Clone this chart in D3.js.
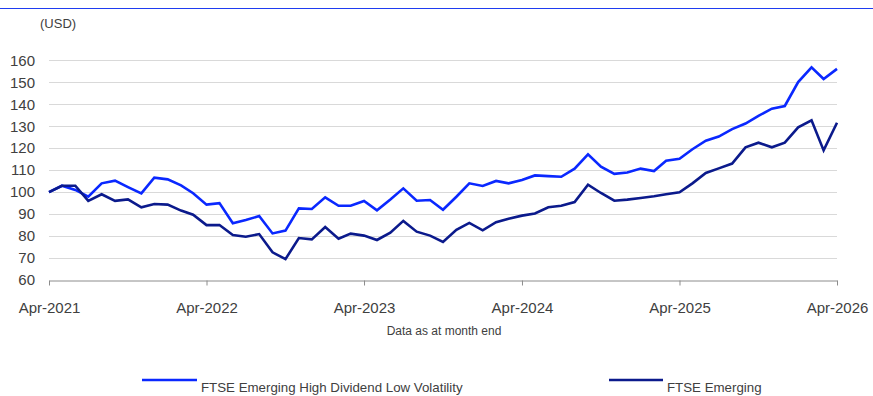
<!DOCTYPE html>
<html>
<head>
<meta charset="utf-8">
<script src="https://cdn.jsdelivr.net/npm/d3@7"></script>
<style>
  html, body { margin: 0; padding: 0; background: #fff; }
  svg { display: block; font-family: Arial, "Liberation Sans", sans-serif; }
</style>
</head>
<body>
<svg id="chart" width="873" height="396"></svg>
<script>
// Monthly index levels (USD), rebased to 100 at Apr-2021, 61 month-ends to Apr-2026
const startYear = 2021, startMonth = 3; // April
const hdlvValues = [
  100.0, 102.9, 101.0, 97.9, 104.0, 105.2, 102.3, 99.4, 106.6, 105.8, 103.1, 99.5,
  94.3, 95.0, 85.8, 87.3, 89.1, 81.2, 82.5, 92.6, 92.3, 97.6, 93.8, 93.8,
  96.0, 91.7, 96.6, 101.7, 96.1, 96.4, 92.0, 97.9, 104.0, 102.8, 105.1, 104.0,
  105.5, 107.6, 107.3, 107.0, 110.7, 117.2, 111.6, 108.3, 108.9, 110.7, 109.6, 114.3,
  115.2, 119.5, 123.4, 125.3, 128.7, 131.2, 134.7, 138.0, 139.2, 150.1, 156.8, 151.5,
  156.1
];
const emergingValues = [
  100.0, 102.9, 102.9, 96.0, 99.0, 96.0, 96.7, 93.1, 94.6, 94.3, 91.6, 89.7,
  85.0, 85.0, 80.5, 79.7, 80.9, 72.6, 69.5, 79.1, 78.5, 84.1, 78.8, 81.1,
  80.2, 78.2, 81.5, 86.9, 82.0, 80.2, 77.3, 82.8, 86.0, 82.6, 86.3, 87.9,
  89.3, 90.3, 93.1, 93.8, 95.5, 103.4, 99.6, 96.1, 96.6, 97.3, 98.1, 99.0,
  99.9, 104.0, 108.7, 110.8, 113.0, 120.4, 122.5, 120.4, 122.5, 129.5, 132.7, 119.0,
  131.6
];
const seriesNames = ["FTSE Emerging High Dividend Low Volatility", "FTSE Emerging"];
const seriesColors = ["#0a28ff", "#0b1a8c"];
const yTicks = [60, 70, 80, 90, 100, 110, 120, 130, 140, 150, 160];
const xTickLabels = ["Apr-2021", "Apr-2022", "Apr-2023", "Apr-2024", "Apr-2025", "Apr-2026"];

const dates = hdlvValues.map((_, i) => new Date(startYear, startMonth + i, 1));
const xTickDates = xTickLabels.map((_, i) => new Date(startYear + i, startMonth, 1));

const svg = d3.select("#chart");
const margin = { left: 49, right: 36 };
const W = 873;

const x = d3.scaleTime()
  .domain([dates[0], dates[dates.length - 1]])
  .range([margin.left, W - margin.right]);
const y = d3.scaleLinear()
  .domain([60, 160])
  .range([280, 60.3]);

// top rule
svg.append("line")
  .attr("x1", 0).attr("x2", W)
  .attr("y1", 8.5).attr("y2", 8.5)
  .attr("stroke", "#1f3cf0").attr("stroke-width", 1.2);

// unit label
svg.append("text")
  .attr("x", 40).attr("y", 28)
  .attr("font-size", 13).attr("fill", "#404040")
  .text("(USD)");

// gridlines and y labels
const yAxis = d3.axisLeft(y).tickValues(yTicks).tickSize(0).tickPadding(14);
const gy = svg.append("g").attr("transform", `translate(${margin.left},0)`).call(yAxis);
gy.select(".domain").remove();
gy.selectAll("text").attr("font-size", 15).attr("fill", "#404040")
  .attr("font-family", "Arial, 'Liberation Sans', sans-serif");

svg.append("g").selectAll("line")
  .data(yTicks.filter(v => v > 60))
  .join("line")
  .attr("x1", margin.left).attr("x2", W - margin.right)
  .attr("y1", d => Math.round(y(d)) + 0.5).attr("y2", d => Math.round(y(d)) + 0.5)
  .attr("stroke", "#d9d9d9").attr("stroke-width", 1.2);

// x axis
const xAxis = d3.axisBottom(x)
  .tickValues(xTickDates)
  .tickFormat((d, i) => xTickLabels[i])
  .tickSizeInner(5).tickSizeOuter(0).tickPadding(16.5);
const gx = svg.append("g").attr("transform", `translate(0,${y(60) + 0.5})`).call(xAxis);
gx.select(".domain").attr("stroke", "#8c8c8c");
gx.selectAll(".tick line").attr("stroke", "#8c8c8c");
gx.selectAll("text").attr("font-size", 15).attr("fill", "#404040")
  .attr("font-family", "Arial, 'Liberation Sans', sans-serif");

// caption
svg.append("text")
  .attr("x", 444).attr("y", 335)
  .attr("text-anchor", "middle")
  .attr("font-size", 12).attr("fill", "#404040")
  .text("Data as at month end");

// series lines
const line = d3.line()
  .x((d, i) => x(dates[i]))
  .y(d => y(d));
const allSeries = [hdlvValues, emergingValues];
svg.append("g").selectAll("path")
  .data(allSeries)
  .join("path")
  .attr("d", d => line(d))
  .attr("fill", "none")
  .attr("stroke", (d, i) => seriesColors[i])
  .attr("stroke-width", 2.6)
  .attr("stroke-linejoin", "miter");

// legend
const legendPos = [{ x: 142, w: 55 }, { x: 609, w: 54 }];
const lg = svg.append("g").selectAll("g")
  .data(seriesNames)
  .join("g")
  .attr("transform", (d, i) => `translate(${legendPos[i].x},380)`);
lg.append("line")
  .attr("x1", 0).attr("x2", (d, i) => legendPos[i].w)
  .attr("stroke", (d, i) => seriesColors[i]).attr("stroke-width", 2.6);
lg.append("text")
  .attr("x", (d, i) => legendPos[i].w + 4)
  .attr("y", 12)
  .attr("font-size", 13.3).attr("fill", "#404040")
  .text(d => d);
</script>
</body>
</html>
